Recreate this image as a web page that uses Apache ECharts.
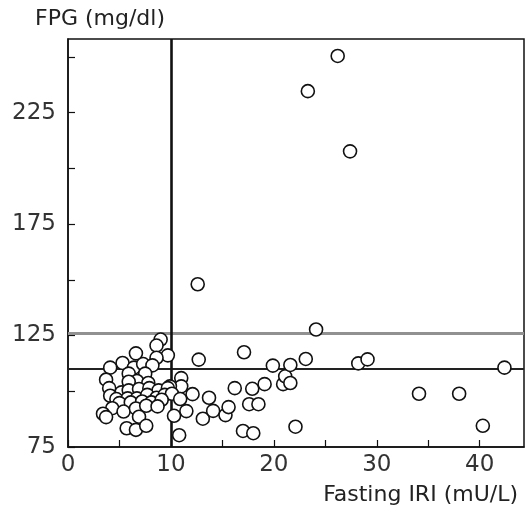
<!DOCTYPE html>
<html>
<head>
<meta charset="utf-8">
<script src="https://cdn.jsdelivr.net/npm/echarts@6/dist/echarts.min.js"></script>
<style>html,body{margin:0;padding:0;background:#fff}#c{width:527px;height:510px}</style>
</head>
<body>
<div id="c"></div>
<script>
// Fasting IRI (mU/L), FPG (mg/dl)
var iri = [9.0,8.6,6.6,9.7,5.3,8.6,4.1,6.4,7.3,8.2,7.5,5.9,3.7,6.7,5.9,7.8,11.0,11.0,9.9,
  4.0,5.2,5.9,6.9,7.9,8.8,9.7,4.1,4.7,5.8,6.7,7.7,8.6,9.4,10.1,10.9,5.0,6.1,7.2,8.1,9.1,
  4.3,5.4,6.6,7.6,8.7,3.4,3.7,6.9,10.3,5.7,6.6,7.6,10.8,
  11.5,12.1,12.7,12.6,13.1,13.7,14.1,15.3,15.6,16.2,17.0,17.1,17.6,17.9,18.0,18.5,19.1,19.9,
  20.9,21.1,21.6,21.6,22.1,23.1,23.3,24.1,26.2,27.4,28.2,29.1,34.1,38.0,40.3,42.4];
var fpg = [123.2,120.5,117.0,116.1,112.7,115.0,110.6,110.6,112.2,111.6,107.9,107.9,105.2,104.6,104.3,103.7,105.9,102.2,102.2,
  101.4,99.5,100.4,101.0,101.4,100.4,101.4,98.0,96.5,96.8,96.8,98.4,97.1,98.4,98.9,96.5,94.7,95.0,95.4,95.0,96.2,
  92.4,90.9,92.3,93.5,93.2,89.9,88.4,88.6,89.0,83.4,82.7,84.5,80.3,
  91.1,98.7,114.2,148.0,87.7,97.1,91.2,89.3,92.9,101.4,82.2,117.5,94.2,101.1,81.2,94.2,103.2,111.5,
  103.2,106.7,103.7,111.8,84.1,114.5,234.6,127.7,250.4,207.6,112.5,114.3,98.9,98.9,84.5,110.6];
var hLinesBlack = [110];
var hLinesGray = [126];
var vLines = [10];
var yLabelTicks = [75, 125, 175, 225];
var xLabelTicks = [0, 10, 20, 30, 40];

var points = iri.map(function (x, i) { return [x, fpg[i]]; });
var font = 'DejaVu Sans';
var chart = echarts.init(document.getElementById('c'), null, {renderer: 'canvas'});
chart.setOption({
  animation: false,
  backgroundColor: '#fff',
  grid: {left: 68, right: 3, top: 39, bottom: 63, show: true, borderColor: '#111', borderWidth: 1.5, backgroundColor: 'transparent'},
  title: {text: 'FPG (mg/dl)', left: 30, top: 3, textStyle: {fontFamily: font, fontSize: 22, fontWeight: 'normal', color: '#222'}},
  xAxis: {
    type: 'value', min: 0, max: 44.3, interval: 5,
    name: 'Fasting IRI (mU/L)', nameLocation: 'end', nameGap: 0,
    nameTextStyle: {fontFamily: font, fontSize: 22, color: '#222', align: 'right', verticalAlign: 'top', padding: [37, 6, 0, 0]},
    axisLine: {show: true, lineStyle: {color: '#111', width: 1.5}},
    axisTick: {show: true, inside: true, length: 7, lineStyle: {color: '#111', width: 1.2}},
    axisLabel: {fontFamily: font, fontSize: 23, color: '#333', margin: 7, showMaxLabel: false,
      formatter: function (v) { return xLabelTicks.indexOf(v) >= 0 ? String(v) : ''; }},
    splitLine: {show: false}
  },
  yAxis: {
    type: 'value', min: 75, max: 258, interval: 25,
    axisLine: {show: true, lineStyle: {color: '#111', width: 1.5}},
    axisTick: {show: true, inside: true, length: 7, lineStyle: {color: '#111', width: 1.2}},
    axisLabel: {fontFamily: font, fontSize: 23, color: '#333', margin: 12, showMaxLabel: false,
      formatter: function (v) { return yLabelTicks.indexOf(v) >= 0 ? String(v) : ''; }},
    splitLine: {show: false}
  },
  series: [
    {
      type: 'scatter', data: [], z: 1, silent: true,
      markLine: {
        silent: true, symbol: 'none', label: {show: false}, animation: false,
        data: hLinesGray.map(function (v) { return {yAxis: v, lineStyle: {color: '#919191', width: 3, type: 'solid'}}; })
          .concat(hLinesBlack.map(function (v) { return {yAxis: v, lineStyle: {color: '#222', width: 2.2, type: 'solid'}}; }))
          .concat(vLines.map(function (v) { return {xAxis: v, lineStyle: {color: '#111', width: 2.6, type: 'solid'}}; }))
      }
    },
    {
      type: 'scatter', data: points, z: 5, symbol: 'circle', symbolSize: 13,
      itemStyle: {color: '#fff', borderColor: '#111', borderWidth: 1.6, opacity: 1}
    }
  ]
});
</script>
</body>
</html>
